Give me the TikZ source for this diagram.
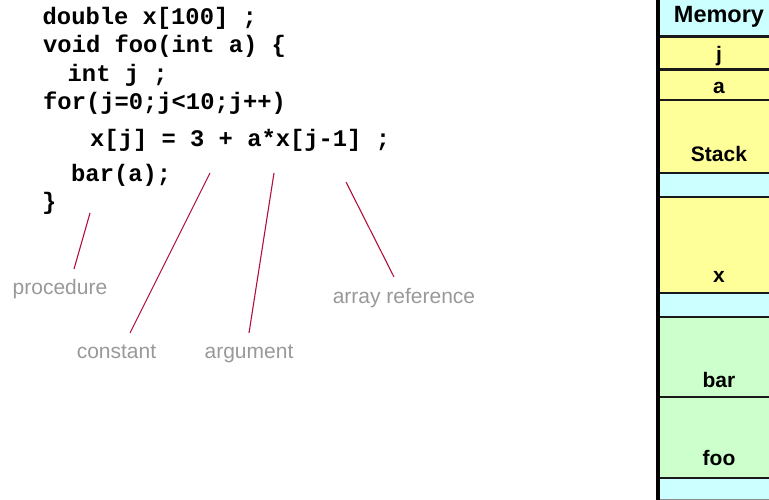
\documentclass[tikz,border=0pt]{standalone}
\usepackage{fontspec}
\setmainfont{Liberation Sans}
\newfontfamily\codefont{Liberation Mono}
\definecolor{memyellow}{HTML}{FFFF99}
\definecolor{memcyan}{HTML}{CCFFFF}
\definecolor{memgreen}{HTML}{CCFFCC}
\definecolor{leader}{HTML}{B0103A}
\definecolor{notegray}{HTML}{999999}
\begin{document}
\begin{tikzpicture}[x=1pt,y=-1pt,
  code/.style={anchor=base west,inner sep=0pt,
    font=\codefont\bfseries\fontsize{23.8}{28}\selectfont},
  note/.style={anchor=base,inner sep=0pt,text=notegray,
    font=\fontsize{21}{25}\selectfont},
  leaderline/.style={draw=leader,line width=1.1pt},
  cell/.style={anchor=base,inner sep=0pt,
    font=\bfseries\fontsize{21}{25}\selectfont},
  sep/.style={draw=black!90,line width=2.5pt}]
\useasboundingbox (0,0) rectangle (769,500);
\clip (0,0) rectangle (769,500);

% ---- source code ----
\node[code] (l1) at (42.5,25)  {double x[100] ;};
\node[code] (l2) at (43,53)    {void foo(int a) \{};
\node[code] (l3) at (67.5,82)  {int j ;};
\node[code] (l4) at (43,110)   {for(j=0;j<10;j++)};
\node[code] (l5) at (90,147)   {x[j] = 3 + a*x[j-1] ;};
\node[code] (l6) at (71,182)   {bar(a);};
\node[code] (l7) at (42,209)   {\}};

% ---- annotations ----
\node[note] (proc)  at (60,294)    {procedure};
\node[note] (const) at (116.5,358) {constant};
\node[note] (arg)   at (249,358)   {argument};
\node[note] (aref)  at (404,303)   {array reference};

\coordinate (procA)  at (90,213);  \coordinate (procB)  at (74,269);
\coordinate (constA) at (210,173); \coordinate (constB) at (130,333);
\coordinate (argA)   at (274,173); \coordinate (argB)   at (249,333);
\coordinate (arefA)  at (346,182); \coordinate (arefB)  at (394,277);
\draw[leaderline] (procA) -- (procB);
\draw[leaderline] (constA) -- (constB);
\draw[leaderline] (argA) -- (argB);
\draw[leaderline] (arefA) -- (arefB);

% ---- memory layout ----
\def\ml{658}\def\mr{800}
\fill[memcyan]   (\ml,0)     rectangle (\mr,36.5);
\fill[memyellow] (\ml,36.5)  rectangle (\mr,173);
\fill[memcyan]   (\ml,173)   rectangle (\mr,197);
\fill[memyellow] (\ml,197)   rectangle (\mr,293);
\fill[memcyan]   (\ml,293)   rectangle (\mr,317);
\fill[memgreen]  (\ml,317)   rectangle (\mr,478);
\fill[memcyan]   (\ml,478)   rectangle (\mr,500);
\foreach \yy in {36.5,69.5,100,173,197,293,317,397,478}
  \draw[sep] (\ml,\yy) -- (\mr,\yy);
\draw[black!45,line width=1pt] (\ml,499.5) -- (\mr,499.5);
\draw[black,line width=4pt] (\ml,0) -- (\ml,500);

\node[cell,font=\bfseries\fontsize{23.5}{28}\selectfont] (mem) at (719,23) {Memory};
\node[cell] (cj)  at (719,62)  {j};
\node[cell] (ca)  at (719,94)  {a};
\node[cell] (cs)  at (719,162) {Stack};
\node[cell] (cx)  at (719,282) {x};
\node[cell] (cb)  at (719,387) {bar};
\node[cell] (cf)  at (719,465) {foo};
\end{tikzpicture}
\end{document}
